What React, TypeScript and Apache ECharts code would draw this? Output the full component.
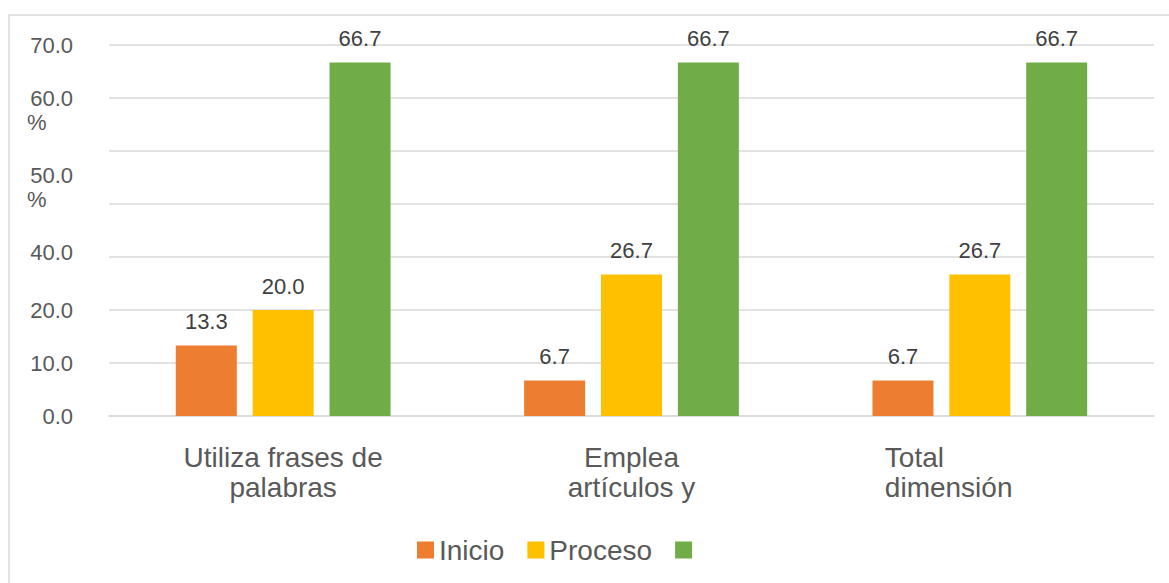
import React, { useEffect, useRef } from "react";
import * as echarts from "echarts";

const categories = ["Utiliza frases de\npalabras", "Emplea\nartículos y", "Total\ndimensión"];
const seriesNames = ["Inicio", "Proceso", " "];
const inicio = [13.3, 6.7, 6.7];
const proceso = [20.0, 26.7, 26.7];
const logro = [66.7, 66.7, 66.7];
const colors = ["#ED7D31", "#FFC000", "#70AD47"];
const yTickValues = [0, 10, 20, 30, 40, 50, 60, 70];
const yTickLabels = ["0.0", "10.0", "20.0", "", "\n\n\n\n40.0", "\n\n\n50.0\n%", "\n60.0\n%", "70.0"];

const FONT = '"Liberation Sans", Arial, sans-serif';

export default function App() {
  const ref = useRef<HTMLDivElement>(null);
  useEffect(() => {
    if (!ref.current) return;
    const chart = echarts.init(ref.current, null, { renderer: "svg" });
    const values = [inicio, proceso, logro];
    const option: any = {
      animation: false,
      backgroundColor: "#ffffff",
      textStyle: { fontFamily: FONT },
      graphic: [
        {
          type: "rect",
          shape: { x: 9, y: 15, width: 1300, height: 700 },
          style: { fill: "none", stroke: "#d9d9d9", lineWidth: 1.5 },
          silent: true,
          z: -1,
        },
      ],
      legend: {
        data: seriesNames,
        left: 412,
        top: 531,
        itemWidth: 17,
        itemHeight: 17,
        itemGap: 23,
        icon: "rect",
        textStyle: { fontSize: 28, color: "#595959", fontFamily: FONT },
      },
      grid: { left: 109, right: 15, top: 45, bottom: 583 - 416, containLabel: false },
      xAxis: {
        type: "category",
        data: categories,
        axisLine: { show: true, lineStyle: { color: "#d9d9d9", width: 1.5 } },
        axisTick: { show: false },
        axisLabel: {
          interval: 0,
          margin: 26,
          fontSize: 28,
          lineHeight: 30,
          color: "#595959",
          fontFamily: FONT,
          formatter: (v: string, i: number) => {
            if (i === 2) {
              return v.split("\n").map((s) => `{l|${s}}`).join("\n");
            }
            return v;
          },
          rich: {
            l: { width: 190, align: "left", fontSize: 28, lineHeight: 30, color: "#595959", fontFamily: FONT },
          },
        },
      },
      yAxis: {
        type: "value",
        min: 0,
        max: 70,
        interval: 10,
        axisLine: { show: false },
        axisTick: { show: false },
        splitLine: { lineStyle: { color: "#d9d9d9", width: 1.5 } },
        axisLabel: {
          margin: 36,
          fontSize: 22,
          lineHeight: 24,
          color: "#595959",
          fontFamily: FONT,
          formatter: (v: number) => {
            const idx = yTickValues.indexOf(v);
            const s = idx >= 0 ? yTickLabels[idx] : "";
            return s
              .split("\n")
              .map((line) => (line === "%" ? "{p|%}" : line))
              .join("\n");
          },
          rich: {
            p: { width: 46, align: "left", fontSize: 22, lineHeight: 24, color: "#595959", fontFamily: FONT },
          },
        },
      },
      series: seriesNames.map((name, k) => ({
        name,
        type: "bar",
        data: values[k],
        barWidth: 61,
        barGap: "26%",
        itemStyle: { color: colors[k] },
        label: {
          show: true,
          position: "top",
          distance: 13,
          fontSize: 22,
          color: "#404040",
          fontFamily: FONT,
          formatter: (p: any) => Number(p.value).toFixed(1),
        },
      })),
    };
    chart.setOption(option);
    return () => chart.dispose();
  }, []);
  return (
    <div
      ref={ref}
      style={{ position: "fixed", left: 0, top: 0, width: 1169, height: 583, background: "#fff" }}
    />
  );
}
